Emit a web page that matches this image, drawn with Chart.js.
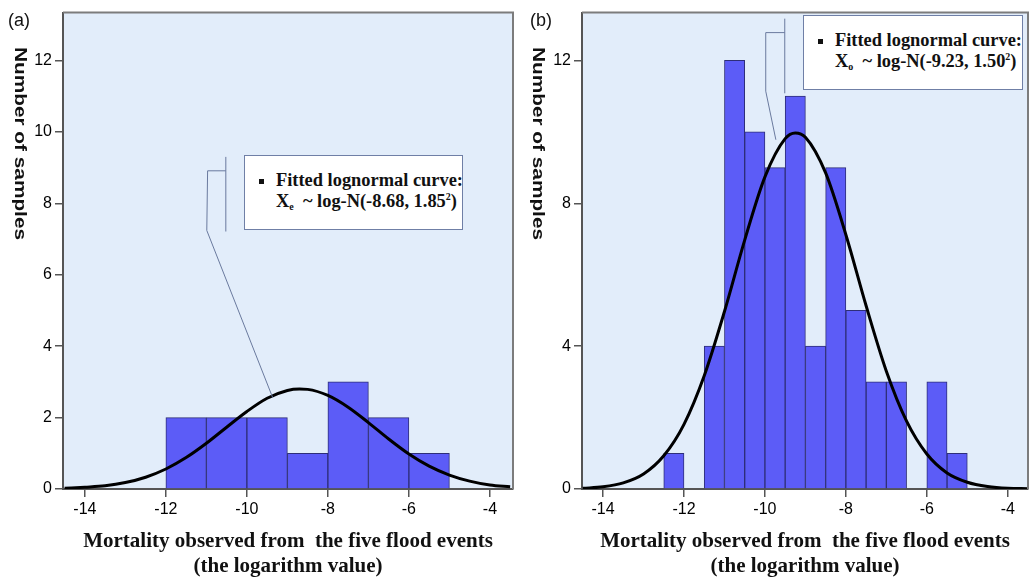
<!DOCTYPE html>
<html>
<head>
<meta charset="utf-8">
<script src="https://cdn.jsdelivr.net/npm/chart.js@4.4.1/dist/chart.umd.min.js"></script>
<style>
  body { margin: 0; background: #fff; }
  #wrap { position: relative; width: 1029px; height: 579px; overflow: hidden; background: #fff; }
  canvas { position: absolute; top: 0; }
  .panel { position: absolute; font: 18px "Liberation Sans", Arial, sans-serif; color: #111; z-index: 2; }
  .ytitle {
    position: absolute; top: 47px; z-index: 2;
    writing-mode: vertical-rl;
    font: bold 16px/16px "Liberation Sans", Arial, sans-serif; color: #111;
    transform: scaleY(1.3); transform-origin: top left;
    white-space: nowrap;
  }
  .leg {
    position: absolute; z-index: 2; box-sizing: border-box;
    background: #fff; border: 1.5px solid #6f7fa6;
    font: bold 18.4px/21px "Liberation Serif", "Times New Roman", serif; color: #111;
    padding: 14px 0 0 31px; white-space: nowrap;
  }
  .leg .sq { position: absolute; left: 14px; top: 23px; width: 5px; height: 5px; background: #111; }
  .leg sub { font-size: 10px; vertical-align: -3px; line-height: 0; }
  .leg sup { font-size: 10px; vertical-align: 7px; line-height: 0; }
</style>
</head>
<body>
<div id="wrap">
  <canvas id="chartA" width="515" height="579" style="left:0px"></canvas>
  <canvas id="chartB" width="514" height="579" style="left:515px"></canvas>

  <div class="panel" style="left:8px;top:10px">(a)</div>
  <div class="panel" style="left:530px;top:10px">(b)</div>
  <div class="ytitle" style="left:12px">Number of samples</div>
  <div class="ytitle" style="left:530px">Number of samples</div>

  <div class="leg" style="left:244px;top:155px;width:219px;height:75px">
    <span class="sq"></span>
    <div>Fitted lognormal curve:</div>
    <div>X<sub>e</sub>&nbsp; ~ log-N(-8.68, 1.85<sup>2</sup>)</div>
  </div>
  <div class="leg" style="left:803px;top:15px;width:220px;height:75px">
    <span class="sq"></span>
    <div>Fitted lognormal curve:</div>
    <div>X<sub>o</sub>&nbsp; ~ log-N(-9.23, 1.50<sup>2</sup>)</div>
  </div>
</div>

<script>
// histogram (a): bins of width 1
const binCentersA = [-11.5, -10.5, -9.5, -8.5, -7.5, -6.5, -5.5]
const countsA = [2, 2, 2, 1, 3, 2, 1]

// histogram (b): bins of width 0.5
const binCentersB = [-12.25, -11.75, -11.25, -10.75, -10.25, -9.75, -9.25, -8.75, -8.25, -7.75, -7.25, -6.75, -6.25, -5.75, -5.25]
const countsB = [1, 0, 4, 12, 10, 9, 11, 4, 9, 5, 3, 3, 0, 3, 1]

// fitted curves
const curveXA = [-14.5, -14, -13.5, -13, -12.5, -12, -11.5, -11, -10.5, -10, -9.5, -9, -8.7, -8.5, -8, -7.5, -7, -6.5, -6, -5.5, -5, -4.5, -4, -3.5]
const curveYA = [0.02, 0.05, 0.09, 0.18, 0.33, 0.56, 0.88, 1.28, 1.73, 2.17, 2.54, 2.76, 2.80, 2.79, 2.62, 2.29, 1.86, 1.40, 0.98, 0.64, 0.39, 0.22, 0.11, 0.06]
const curveXB = [-14.5, -14, -13.5, -13, -12.5, -12, -11.5, -11, -10.5, -10, -9.5, -9.25, -9, -8.5, -8, -7.5, -7, -6.5, -6, -5.5, -5, -4.5, -4, -3.5]
const curveYB = [0.02, 0.06, 0.17, 0.42, 0.93, 1.81, 3.17, 4.97, 6.97, 8.74, 9.81, 9.97, 9.85, 8.85, 7.12, 5.13, 3.30, 1.90, 0.98, 0.45, 0.19, 0.07, 0.02, 0.01]

// tick labels
const xTicks = [-14, -12, -10, -8, -6, -4]
const yTicksA = [0, 2, 4, 6, 8, 10, 12]
const yTicksB = [0, 4, 8, 12]

const xTitle = ['Mortality observed from  the five flood events', '(the logarithm value)']

// callout leader lines, in data units
const leaderA = [[[-10.52, 9.30], [-10.52, 7.21]], [[-10.52, 8.91], [-10.97, 8.91], [-10.99, 7.24], [-9.36, 2.55]]]
const leaderB = [[[-9.51, 13.17], [-9.51, 11.08]], [[-9.51, 12.78], [-9.98, 12.78], [-9.98, 11.14], [-9.73, 9.78]]]

const plotFrame = {
  id: 'plotFrame',
  beforeDraw(chart) {
    const {ctx, chartArea: a} = chart
    ctx.save()
    ctx.fillStyle = '#e2edfa'
    ctx.fillRect(a.left, a.top, a.right - a.left, a.bottom - a.top)
    ctx.restore()
  },
  afterDraw(chart) {
    const {ctx, chartArea: a} = chart
    ctx.save()
    ctx.strokeStyle = '#7c7c7c'
    ctx.lineWidth = 2
    ctx.beginPath()
    ctx.moveTo(a.left, a.top)
    ctx.lineTo(a.right, a.top)
    ctx.lineTo(a.right, a.bottom)
    ctx.stroke()
    ctx.restore()
  }
}

const leaders = {
  id: 'leaders',
  afterDatasetsDraw(chart, args, opts) {
    const {ctx, scales: {x, y}} = chart
    ctx.save()
    ctx.strokeStyle = '#6a7a9e'
    ctx.lineWidth = 1
    opts.paths.forEach(path => {
      ctx.beginPath()
      path.forEach(([vx, vy], i) => {
        const px = x.getPixelForValue(vx), py = y.getPixelForValue(vy)
        if (i === 0) ctx.moveTo(px, py)
        else ctx.lineTo(px, py)
      })
      ctx.stroke()
    })
    ctx.restore()
  }
}

let makePanel = (id, p) => {
  const ctx = document.getElementById(id).getContext('2d')
  new Chart(ctx, {
    type: 'bar',
    data: {
      datasets: [{
        type: 'line',
        data: p.curveX.map((v, i) => ({x: v, y: p.curveY[i]})),
        borderColor: '#000',
        borderWidth: 3,
        pointRadius: 0,
        fill: false,
        cubicInterpolationMode: 'monotone',
        clip: 0,
        order: 0
      }, {
        type: 'bar',
        data: p.centers.map((v, i) => ({x: v, y: p.counts[i]})),
        backgroundColor: '#5c5cf7',
        borderColor: '#2e2e78',
        borderWidth: 1,
        barPercentage: 1,
        categoryPercentage: 1,
        order: 1
      }]
    },
    options: {
      responsive: false,
      animation: false,
      layout: { padding: { top: 10, right: p.padRight, left: 0, bottom: 0 } },
      plugins: {
        legend: { display: false },
        tooltip: { enabled: false },
        leaders: { paths: p.leader }
      },
      scales: {
        x: {
          type: 'linear',
          min: p.xMin,
          max: p.xMax,
          offset: false,
          afterBuildTicks: s => { s.ticks = xTicks.map(v => ({value: v})) },
          afterFit: s => { s.height = 90 },
          grid: { drawOnChartArea: false, offset: false, tickLength: 8, color: '#555', lineWidth: 1.5 },
          border: { display: true, color: '#555', width: 2 },
          ticks: { autoSkip: false, maxRotation: 0, padding: 3, color: '#000',
                   font: { family: 'Liberation Sans', size: 16 } },
          title: { display: true, text: xTitle, color: '#111', padding: { top: 0, bottom: 0 },
                   font: { family: 'Liberation Serif', weight: 'bold', size: 21, lineHeight: 1.19 } }
        },
        y: {
          min: 0,
          max: 13.34,
          afterBuildTicks: s => { s.ticks = p.yTicks.map(v => ({value: v})) },
          afterFit: s => { s.width = p.yWidth },
          grid: { drawOnChartArea: false, tickLength: 8, color: '#555', lineWidth: 1.5 },
          border: { display: true, color: '#555', width: 2 },
          ticks: { padding: 3, color: '#000', font: { family: 'Liberation Sans', size: 16 } }
        }
      }
    },
    plugins: [plotFrame, leaders]
  })
}

makePanel('chartA', {
  centers: binCentersA, counts: countsA, curveX: curveXA, curveY: curveYA,
  yTicks: yTicksA, xMin: -14.54, xMax: -3.43, yWidth: 63, padRight: 2, leader: leaderA
})
makePanel('chartB', {
  centers: binCentersB, counts: countsB, curveX: curveXB, curveY: curveYB,
  yTicks: yTicksB, xMin: -14.52, xMax: -3.5, yWidth: 67, padRight: 1, leader: leaderB
})
</script>
</body>
</html>
